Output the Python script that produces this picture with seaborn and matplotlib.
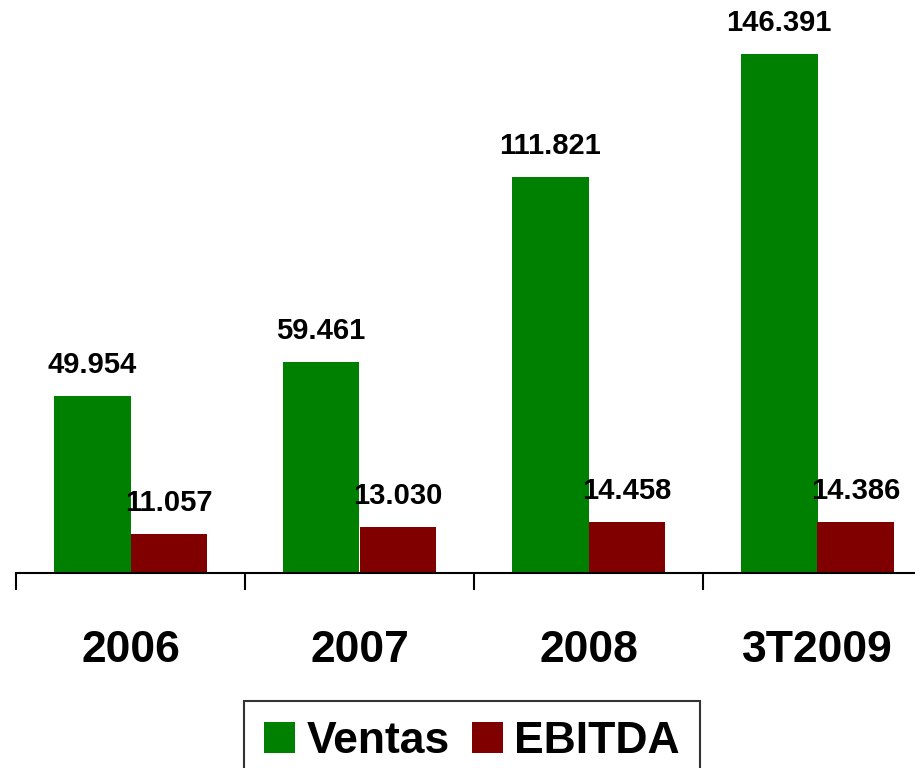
import pandas as pd
import matplotlib
matplotlib.use("Agg")
import matplotlib.pyplot as plt
import seaborn as sns
from matplotlib.ticker import FixedLocator
from matplotlib.patches import Patch

# data
years = ["2006", "2007", "2008", "3T2009"]
ventas = [49.954, 59.461, 111.821, 146.391]
ebitda = [11.057, 13.030, 14.458, 14.386]
series = ["Ventas", "EBITDA"]
colors = ["#008000", "#800000"]

df = pd.DataFrame({
    "year": years * 2,
    "serie": [series[0]] * len(years) + [series[1]] * len(years),
    "value": ventas + ebitda,
})

sns.set_theme(style="white", rc={"text.color": "black", "xtick.color": "black",
                                 "axes.labelcolor": "black"})
plt.rcParams["font.family"] = ["Liberation Sans", "DejaVu Sans"]
plt.rcParams["font.weight"] = "bold"

fig = plt.figure(figsize=(9.15, 7.68), dpi=100)
ax = fig.add_axes([16 / 915, 195 / 768, 916 / 915, 573 / 768])

sns.barplot(data=df, x="year", y="value", hue="serie", palette=colors,
            width=0.67, saturation=1, linewidth=0, ax=ax, legend=False)

ax.set_xlim(-0.5, 3.5)
ax.set_ylim(0, 161.6)

# value labels
for cont in ax.containers:
    labels = [f"{v:.3f}" for v in cont.datavalues]
    ax.bar_label(cont, labels=labels, padding=12, fontsize=21, fontweight="bold", color="black")

# axes styling
for s in ["left", "right", "top"]:
    ax.spines[s].set_visible(False)
ax.spines["bottom"].set_color("black")
ax.spines["bottom"].set_linewidth(1.5)
ax.set_yticks([])
ax.set_xlabel("")
ax.set_ylabel("")
ax.xaxis.set_minor_locator(FixedLocator([-0.5, 0.5, 1.5, 2.5, 3.5]))
ax.tick_params(axis="x", which="minor", bottom=True, length=12, width=1.5, color="black", direction="out")
ax.tick_params(axis="x", which="major", length=0, pad=41, labelsize=32, labelcolor="black")
for t in ax.get_xticklabels():
    t.set_fontweight("bold")

# legend
handles = [Patch(facecolor=c, edgecolor="none", label=l) for c, l in zip(colors, series)]
leg = fig.legend(handles=handles, loc="upper center", bbox_to_anchor=(472 / 915, 67 / 768),
                 ncol=2, fontsize=32, frameon=True, fancybox=False, handlelength=0.7,
                 handleheight=0.7, handletextpad=0.25, columnspacing=0.5, borderpad=0.45,
                 borderaxespad=0)
leg.get_frame().set_edgecolor("black")
leg.get_frame().set_linewidth(1.5)
for t in leg.get_texts():
    t.set_fontweight("bold")
    t.set_color("black")

fig.savefig("out.png", dpi=100)
